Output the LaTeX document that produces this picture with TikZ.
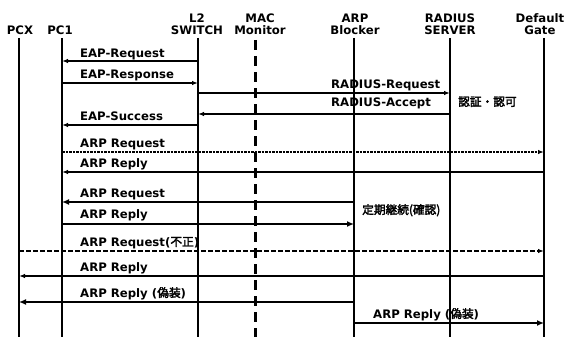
\documentclass[tikz,border=0pt]{standalone}
\usepackage{fontspec}
\setmainfont{DejaVu Sans}
\newfontfamily\jp{Noto Sans CJK JP}[AutoFakeBold=2.5]
\usetikzlibrary{arrows.meta}
\begin{document}
\begin{tikzpicture}[x=1pt,y=-1pt,
  font=\fontsize{11.7}{11.5}\selectfont\bfseries,
  hdr/.style={anchor=south,inner sep=0pt,align=center},
  lab/.style={anchor=base west,inner sep=0pt},
  life/.style={line width=1.5pt},
  macline/.style={line width=3pt,dash pattern=on 10pt off 6pt},
  msg/.style={line width=1.4pt,-{Latex[length=6pt,width=4.5pt]}},
  boldmsg/.style={line width=2.7pt,-{Latex[length=7pt,width=6pt]}},
  dotmsg/.style={msg,dash pattern=on 2.5pt off 1pt},
  dashmsg/.style={msg,dash pattern=on 5pt off 2pt}]
\useasboundingbox (0,0) rectangle (567,337);
\fill[white] (0,0) rectangle (567,337);
% headers
\node[hdr] (pcx) at (20,34.5) {PCX};
\node[hdr] (pc1) at (60,34.5) {PC1};
\node[hdr] (sw)  at (197,34.5) {L2\\SWITCH};
\node[hdr] (mac) at (260,34.5) {MAC\\Monitor};
\node[hdr] (blk) at (355,34.5) {ARP\\Blocker};
\node[hdr] (rad) at (450,34.5) {RADIUS\\SERVER};
\node[hdr] (gw)  at (540,34.5) {Default\\Gate};
% lifelines
\coordinate (lpcx) at (19,38);
\coordinate (lpc1) at (62,38);
\coordinate (lsw)  at (198,38);
\coordinate (lmac) at (255,40);
\coordinate (lblk) at (354,38);
\coordinate (lrad) at (450,38);
\coordinate (lgw)  at (544,38);
\foreach \l in {lpcx,lpc1,lsw,lblk,lrad,lgw}
  \draw[life] (\l) -- (\l |- 0,337);
\draw[macline] (lmac) -- (lmac |- 0,337);
% messages
\draw[msg] (lsw |- 0,61) -- (lpc1 |- 0,61);
\node[lab] (m1) at (80,57) {EAP-Request};
\draw[msg] (lpc1 |- 0,83) -- (lsw |- 0,83);
\node[lab] (m2) at (80,78) {EAP-Response};
\draw[msg] (lsw |- 0,93) -- (lrad |- 0,93);
\node[lab] (m3) at (331,88) {RADIUS-Request};
\draw[msg] (lrad |- 0,114) -- (lsw |- 0,114);
\node[lab] (m4) at (331,106) {RADIUS-Accept};
\node[lab] (n1) at (458,106) {\jp 認証・認可};
\draw[msg] (lsw |- 0,125) -- (lpc1 |- 0,125);
\node[lab] (m5) at (80,120) {EAP-Success};
\draw[dotmsg] (lpc1 |- 0,152) -- (lgw |- 0,152);
\node[lab] (m6) at (80,147) {ARP Request};
\draw[msg] (lgw |- 0,172) -- (lpc1 |- 0,172);
\node[lab] (m7) at (80,167) {ARP Reply};
\draw[boldmsg] (lblk |- 0,202) -- (lpc1 |- 0,202);
\node[lab] (m8) at (80,197) {ARP Request};
\draw[boldmsg] (lpc1 |- 0,224) -- (lblk |- 0,224);
\node[lab] (m9) at (80,218) {ARP Reply};
\node[lab] (n2) at (362,214) {\jp 定期継続(確認)};
\draw[dashmsg] (lpcx |- 0,251) -- (lgw |- 0,251);
\node[lab] (m10) at (80,246) {ARP Request({\jp 不正})};
\draw[msg,line width=1.8pt] (lgw |- 0,276) -- (lpcx |- 0,276);
\node[lab] (m11) at (80,271) {ARP Reply};
\draw[boldmsg] (lblk |- 0,302) -- (lpcx |- 0,302);
\node[lab] (m12) at (80,297) {ARP Reply ({\jp 偽装})};
\draw[boldmsg] (lblk |- 0,323) -- (lgw |- 0,323);
\node[lab] (m13) at (373,318) {ARP Reply ({\jp 偽装})};
\end{tikzpicture}
\end{document}
